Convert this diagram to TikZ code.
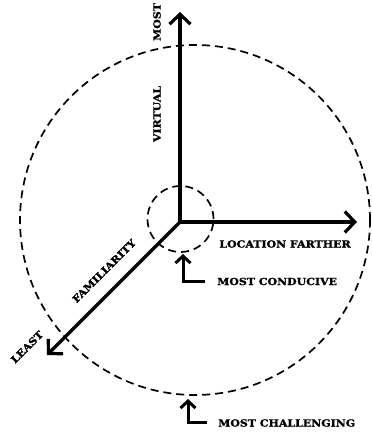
\documentclass[tikz,border=0pt]{standalone}
\usepackage{fontspec}
\setmainfont{DejaVu Serif}
\newfontfamily\heavy{DejaVu Serif Bold}[FakeBold=1.4,FakeStretch=1.12]
\usetikzlibrary{arrows.meta}
\begin{document}
\begin{tikzpicture}[x=1pt,y=1pt,
  axis/.style={line width=3.2pt,-{Straight Barb[length=10pt,width=21pt,line width=3.2pt]}},
  hookarrow/.style={line width=3pt,-{Straight Barb[length=7pt,width=15pt,line width=3pt]}},
  ring/.style={line width=1.7pt,dash pattern=on 8pt off 5pt},
  lbl/.style={font=\heavy\fontsize{9.8}{11}\selectfont,inner sep=0pt}]
\useasboundingbox (0,0) rectangle (372,434);
\coordinate (O) at (180,212);
\coordinate (up) at (180,422);
\coordinate (right) at (357,212);
\coordinate (diag) at (47,79);
\draw[ring] (195,214) circle (175);
\draw[ring] (180.5,215) circle (33);
\draw[axis] (O) -- (up);
\draw[axis] (O) -- (right);
\draw[axis] (O) -- (diag);
\node[lbl,rotate=90] (most) at (157,412) {MOST};
\node[lbl,rotate=90] (virtual) at (157,320) {VIRTUAL};
\node[lbl,rotate=45] (fam) at (104,163) {FAMILIARITY};
\node[lbl,rotate=45] (least) at (27,87) {LEAST};
\node[lbl] (loc) at (285,190) {LOCATION FARTHER};
\node[lbl,anchor=west] (cond) at (217,152.5) {MOST CONDUCIVE};
\node[lbl,anchor=west] (chal) at (218,11) {MOST CHALLENGING};
\coordinate (condtip) at (183,180);
\coordinate (chaltip) at (188,35);
\draw[hookarrow] ([xshift=-12pt]cond.west) -| (condtip);
\draw[hookarrow] ([xshift=-11pt]chal.west) -| (chaltip);
\end{tikzpicture}
\end{document}
